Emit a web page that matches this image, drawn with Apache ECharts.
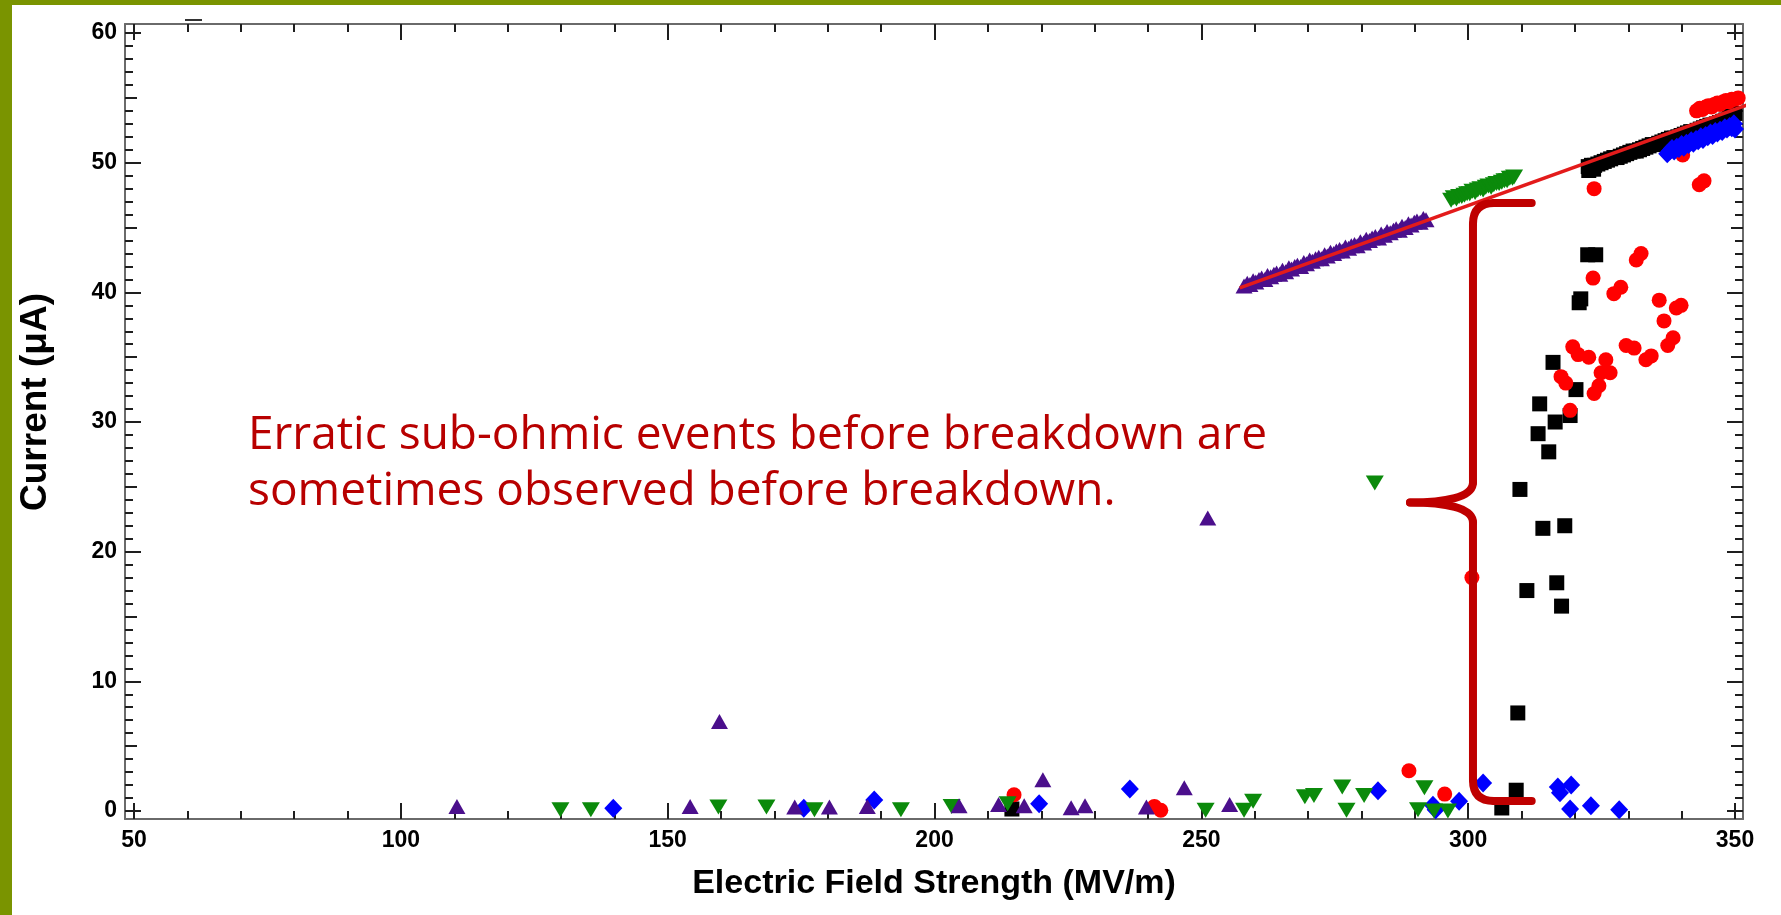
<!DOCTYPE html>
<html>
<head>
<meta charset="utf-8">
<script src="https://cdn.jsdelivr.net/npm/echarts@6/dist/echarts.min.js"></script>
<style>
html,body{margin:0;padding:0;background:#ffffff;}
#c{width:1781px;height:915px;}
</style>
</head>
<body>
<div id="c"></div>
<script>
// ---------------- data ----------------
const xTickLabels = [50, 100, 150, 200, 250, 300, 350];
const yTickLabels = [0, 10, 20, 30, 40, 50, 60];
const xTitle = 'Electric Field Strength (MV/m)';
const yTitle = 'Current (μA)';
const noteLines = ['Erratic sub-ohmic events before breakdown are', 'sometimes observed before breakdown.'];

// purple up-triangles: ohmic band + scattered low points
const purpleBand = [[258.0,40.5],[258.6,40.7],[259.1,40.6],[259.7,40.9],[260.2,40.8],[260.8,41.0],[261.3,41.1],[261.9,41.0],[262.4,41.3],[263.0,41.2],[263.6,41.4],[264.1,41.5],[264.7,41.4],[265.2,41.7],[265.8,41.6],[266.4,41.9],[266.9,41.8],[267.5,42.0],[268.0,42.1],[268.6,42.0],[269.2,42.3],[269.7,42.2],[270.3,42.5],[270.8,42.4],[271.4,42.6],[272.0,42.7],[272.5,42.6],[273.1,42.9],[273.6,42.8],[274.2,43.1],[274.8,43.0],[275.3,43.2],[275.9,43.3],[276.4,43.2],[277.0,43.5],[277.6,43.4],[278.1,43.6],[278.7,43.7],[279.2,43.6],[279.8,43.9],[280.4,43.8],[280.9,44.1],[281.5,44.0],[282.0,44.2],[282.6,44.3],[283.2,44.2],[283.7,44.5],[284.3,44.4],[284.8,44.7],[285.4,44.6],[286.0,44.8],[286.5,44.9],[287.1,44.8],[287.6,45.1],[288.2,45.0],[288.8,45.3],[289.3,45.2],[289.9,45.4],[290.4,45.5],[291.0,45.4],[291.6,45.7],[292.1,45.6]];
const purpleLow = [[110.5,0.35],[154.2,0.35],[159.7,6.9],[173.8,0.3],[180.3,0.3],[187.4,0.35],[204.6,0.4],[212.0,0.5],[216.8,0.4],[220.3,2.4],[225.6,0.25],[228.2,0.4],[239.7,0.3],[246.8,1.8],[251.2,22.6],[255.3,0.5]];

// green down-triangles
const greenBand = [[296.8,47.1],[297.3,47.3],[297.8,47.2],[298.3,47.4],[298.8,47.4],[299.3,47.5],[299.8,47.6],[300.3,47.6],[300.8,47.8],[301.3,47.7],[301.8,47.9],[302.3,48.0],[302.8,47.9],[303.3,48.1],[303.8,48.2],[304.3,48.1],[304.8,48.3],[305.3,48.4],[305.8,48.4],[306.3,48.5],[306.8,48.6],[307.3,48.6],[307.8,48.8],[308.3,48.8],[308.6,48.9]];
const greenLow = [[129.9,0.1],[135.6,0.1],[159.5,0.3],[168.5,0.3],[177.5,0.1],[193.7,0.1],[203.2,0.35],[213.7,0.55],[250.8,0.05],[258.0,0.05],[259.7,0.75],[269.4,1.1],[271.1,1.2],[276.4,1.85],[277.2,0.05],[280.5,1.2],[282.5,25.3],[290.6,0.1],[291.8,1.8],[293.6,0.0],[296.2,0.0]];

// black squares
const blackBand = [[322.6,49.4],[323.5,49.5],[322.5,49.7],[323.1,49.8],[323.7,49.8],[324.3,49.9],[324.9,50.0],[325.5,50.1],[326.1,50.2],[326.7,50.3],[327.3,50.4],[327.9,50.4],[328.5,50.5],[329.1,50.6],[329.7,50.7],[330.3,50.8],[330.9,50.9],[331.5,50.9],[332.1,51.0],[332.7,51.1],[333.3,51.2],[333.9,51.3],[334.5,51.4],[335.1,51.4],[335.7,51.5],[336.3,51.6],[336.9,51.7],[337.5,51.8],[338.1,51.9],[338.7,51.9],[339.3,52.0],[339.9,52.1],[340.5,52.2],[341.1,52.3],[341.7,52.4],[342.3,52.4],[342.9,52.5],[343.5,52.6],[344.1,52.7],[344.7,52.8],[345.3,52.9],[345.9,52.9],[346.5,53.0],[347.1,53.1],[347.7,53.2],[348.3,53.3],[348.9,53.5],[349.5,53.6],[350.0,53.8]];
const blackErratic = [[322.4,42.9],[323.9,42.9],[321.1,39.5],[320.8,39.2],[315.9,34.6],[320.2,32.5],[313.4,31.4],[319.1,30.5],[316.3,30.0],[313.1,29.1],[315.1,27.7],[309.7,24.8],[314.0,21.8],[318.1,22.0],[311.0,17.0],[316.6,17.6],[317.5,15.8],[309.3,7.56],[309.0,1.6],[306.3,0.23],[214.5,0.15]];

// red circles
const redBand = [[342.8,54.0],[343.4,54.2],[343.9,54.1],[344.5,54.3],[345.0,54.4],[345.6,54.3],[346.1,54.5],[346.7,54.6],[347.2,54.5],[347.8,54.7],[348.3,54.8],[348.9,54.7],[349.4,54.9],[350.0,54.9],[350.6,55.0]];
const redErratic = [[323.6,48.0],[340.2,50.6],[343.3,48.3],[344.2,48.6],[323.4,41.1],[332.4,43.0],[331.5,42.5],[328.6,40.4],[327.3,39.9],[335.8,39.4],[339.9,39.0],[339.0,38.8],[336.7,37.8],[338.4,36.5],[337.4,35.9],[329.6,35.9],[331.1,35.7],[319.6,35.8],[320.6,35.2],[322.6,35.0],[325.8,34.8],[334.3,35.1],[333.3,34.8],[326.6,33.8],[324.9,33.8],[317.4,33.5],[318.3,33.0],[324.5,32.8],[323.6,32.2],[319.1,30.9],[300.7,18.0],[288.9,3.1],[295.6,1.3],[214.9,1.25],[241.2,0.35],[242.4,0.05]];

// blue diamonds
const blueBand = [[337.3,50.7],[337.8,50.9],[338.2,51.1],[338.6,50.9],[339.1,51.2],[339.5,51.1],[340.0,51.4],[340.4,51.2],[340.9,51.5],[341.3,51.4],[341.8,51.7],[342.2,51.5],[342.7,51.8],[343.1,51.7],[343.6,52.0],[344.0,51.8],[344.5,52.1],[344.9,52.0],[345.4,52.3],[345.8,52.1],[346.3,52.4],[346.7,52.3],[347.2,52.5],[347.6,52.4],[348.1,52.7],[348.5,52.6],[349.0,52.8],[349.4,52.7],[349.8,53.0],[350.0,52.6]];
const blueLow = [[139.8,0.2],[175.5,0.2],[188.7,0.85],[219.6,0.55],[236.6,1.7],[283.1,1.55],[293.4,0.45],[293.9,0.1],[298.3,0.75],[302.8,2.15],[316.8,1.85],[317.2,1.4],[319.3,2.0],[319.1,0.15],[323.0,0.4],[328.3,0.1]];

// ohmic fit line
const fitLine = [[257.2,40.35],[352.6,54.5]];

// brace annotation (data coordinates)
const braceSpineX = 300.9, braceTipX = 289.1, braceEndX = 311.9;
const braceTopY = 46.9, braceMidY = 23.8, braceBottomY = 0.77;

// ---------------- layout ----------------
const X_MIN = 48.3, X_MAX = 351.5, Y_MIN = -0.62, Y_MAX = 60.7;
const xMinor = [];
for (let v = 60; v < 350; v += 10) if (v % 50 !== 0) xMinor.push(v);
const yMid = [5, 15, 25, 35, 45, 55];
const yMinor = [];
for (let v = 1; v < 60; v++) if (v % 5 !== 0) yMinor.push(v);

const FONT = '"Liberation Sans", Arial, Helvetica, sans-serif';
const lineOn = { show: true, onZero: false, lineStyle: { color: '#6a6a6a', width: 2 } };
const lineOff = { show: false, onZero: false };
function tick(vals, len) {
  return { show: true, inside: true, length: len, customValues: vals, lineStyle: { color: '#1e1e1e', width: 2 } };
}
const lbl = { fontFamily: FONT, fontWeight: 'bold', fontSize: 23, color: '#000' };

function xa(pos, vals, len, line, labels, extra) {
  return Object.assign({
    type: 'value', position: pos, min: X_MIN, max: X_MAX,
    axisLine: line ? lineOn : lineOff,
    axisTick: tick(vals, len),
    axisLabel: labels ? Object.assign({ show: true, customValues: vals, margin: 10 }, lbl) : { show: false },
    splitLine: { show: false }
  }, extra || {});
}
function ya(pos, vals, len, line, labels) {
  return {
    type: 'value', position: pos, min: Y_MIN, max: Y_MAX,
    axisLine: line ? lineOn : lineOff,
    axisTick: tick(vals, len),
    axisLabel: labels ? Object.assign({ show: true, customValues: vals, margin: 8 }, lbl) : { show: false },
    splitLine: { show: false }
  };
}

const option = {
  animation: false,
  backgroundColor: '#ffffff',
  grid: { left: 125, right: 38, top: 24, bottom: 96, containLabel: false },
  xAxis: [
    xa('bottom', xTickLabels, 16, true, true, {
      name: xTitle, nameLocation: 'middle', nameGap: 48,
      nameTextStyle: { fontFamily: FONT, fontWeight: 'bold', fontSize: 34, color: '#000' }
    }),
    xa('bottom', xMinor, 8, false, false),
    xa('top', xTickLabels, 16, true, false),
    xa('top', xMinor, 8, false, false)
  ],
  yAxis: [
    ya('left', yTickLabels, 16, true, true),
    ya('left', yMid, 12, false, false),
    ya('left', yMinor, 8, false, false),
    ya('right', yTickLabels, 16, true, false),
    ya('right', yMid, 12, false, false),
    ya('right', yMinor, 8, false, false)
  ],
  series: [
    { type: 'scatter', name: 'black', symbol: 'rect', symbolSize: 15, itemStyle: { color: '#000000', opacity: 1 }, data: blackBand.concat(blackErratic), z: 2 },
    { type: 'scatter', name: 'red', symbol: 'circle', symbolSize: 15, itemStyle: { color: '#ff0000', opacity: 1 }, data: redBand.concat(redErratic), z: 3 },
    { type: 'scatter', name: 'blue', symbol: 'diamond', symbolSize: [18, 19], itemStyle: { color: '#0000ff', opacity: 1 }, data: blueBand.concat(blueLow), z: 4 },
    { type: 'scatter', name: 'green', symbol: 'triangle', symbolRotate: 180, symbolSize: [18, 15], itemStyle: { color: '#0b8a0b', opacity: 1 }, data: greenBand.concat(greenLow), z: 5 },
    { type: 'scatter', name: 'purple', symbol: 'triangle', symbolSize: [17, 15], itemStyle: { color: '#4b0f8c', opacity: 1 }, data: purpleBand.concat(purpleLow), z: 6 },
    { type: 'line', name: 'fit', data: fitLine, symbol: 'none', clip: false, lineStyle: { color: '#e31b1b', width: 3.5 }, z: 7 }
  ]
};

const chart = echarts.init(document.getElementById('c'), null, { renderer: 'canvas', width: 1781, height: 915 });
chart.setOption(option);

function px(x, y) { return chart.convertToPixel({ xAxisIndex: 0, yAxisIndex: 0 }, [x, y]); }
const pTop = px(braceSpineX, braceTopY);
const pMid = px(braceSpineX, braceMidY);
const pBot = px(braceSpineX, braceBottomY);
const S = pTop[0];
const T = px(braceTipX, braceMidY)[0];
const E = px(braceEndX, braceTopY)[0];
const Yt = pTop[1], Ym = pMid[1], Yb = pBot[1];
const r = 21, c = 20;
const braceStyle = { stroke: '#bf0000', lineWidth: 8, fill: null, lineCap: 'round' };
function bl(x1, y1, x2, y2) { return { type: 'line', z: 100, shape: { x1, y1, x2, y2 }, style: braceStyle }; }
function bz(x1, y1, cpx1, cpy1, cpx2, cpy2, x2, y2) {
  const shape = { x1, y1, cpx1, cpy1, x2, y2 };
  if (cpx2 != null) { shape.cpx2 = cpx2; shape.cpy2 = cpy2; }
  return { type: 'bezierCurve', z: 100, shape, style: braceStyle };
}
const brace = [
  bl(E, Yt, S + r, Yt),
  bz(S + r, Yt, S, Yt, null, null, S, Yt + r),
  bl(S, Yt + r, S, Ym - c),
  bz(S, Ym - c, S, Ym - 5, S - 28, Ym, T, Ym),
  bz(T, Ym, S - 28, Ym, S, Ym + 5, S, Ym + c),
  bl(S, Ym + c, S, Yb - r),
  bz(S, Yb - r, S, Yb, null, null, S + r, Yb),
  bl(S + r, Yb, E, Yb)
];

chart.setOption({
  graphic: [
    { type: 'rect', z: 200, shape: { x: 0, y: 0, width: 12, height: 915 }, style: { fill: '#7a9400' } },
    { type: 'rect', z: 200, shape: { x: 0, y: 0, width: 1781, height: 5 }, style: { fill: '#7a9400' } },
    { type: 'line', z: 100, shape: { x1: 185, y1: 20, x2: 202, y2: 20 }, style: { stroke: '#333', lineWidth: 2 } },
    { type: 'text', z: 100, x: 36, y: 402, rotation: Math.PI / 2,
      style: { text: yTitle, font: 'bold 37px ' + FONT, fill: '#000', align: 'center', verticalAlign: 'middle' } },
    { type: 'text', z: 100, x: 248, y: 436,
      style: { text: noteLines[0], font: '46px "Open Sans", sans-serif', fill: '#b80000', align: 'left', verticalAlign: 'middle' } },
    { type: 'text', z: 100, x: 248, y: 492,
      style: { text: noteLines[1], font: '46px "Open Sans", sans-serif', fill: '#b80000', align: 'left', verticalAlign: 'middle' } }
  ].concat(brace)
});
</script>
</body>
</html>
